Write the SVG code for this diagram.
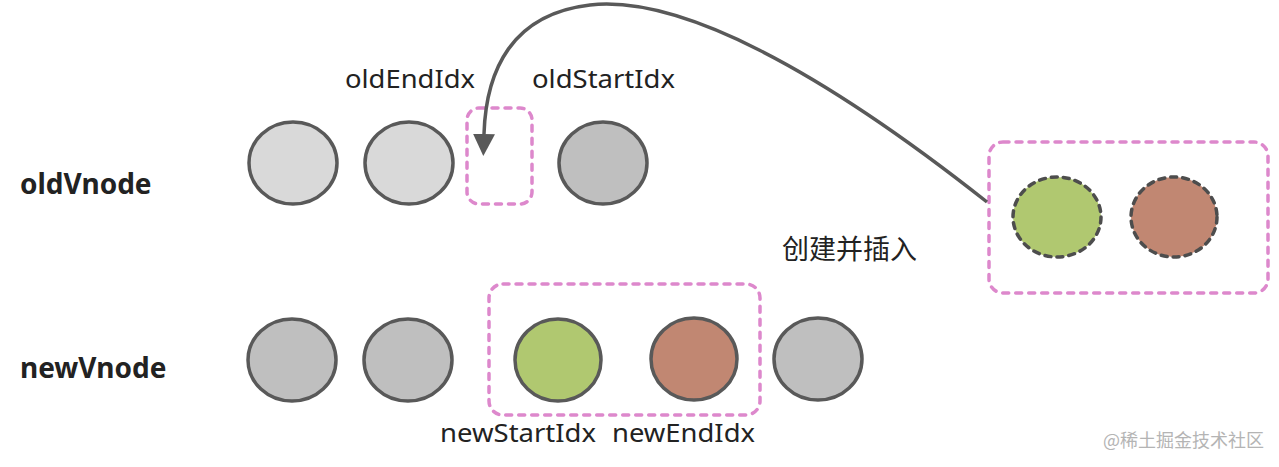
<svg xmlns="http://www.w3.org/2000/svg" width="1279" height="467" viewBox="0 0 1279 467">
<style>
.lbl{font-family:"Noto Sans","Liberation Sans",sans-serif;font-size:26px;fill:#222}
.row{font-family:"Noto Sans","Liberation Sans",sans-serif;font-size:28px;font-weight:bold;fill:#222}
.cjk{font-family:"Noto Sans CJK SC","Noto Sans",sans-serif;font-size:27px;fill:#222}
.wm{font-family:"Noto Sans CJK SC","Noto Sans",sans-serif;font-size:18px;fill:#b4b4b4}
.n{stroke:#595959;stroke-width:3.5}
.light{fill:#d9d9d9}
.grey{fill:#bfbfbf}
.green{fill:#b0c870}
.red{fill:#c18772}
.dn{stroke:#4d4d4d;stroke-width:3.5;stroke-dasharray:6 6;stroke-linecap:round}
.box{fill:none;stroke:#dd88cc;stroke-width:3.5;stroke-dasharray:6 7;stroke-linecap:round}
.conn{fill:none;stroke:#595959;stroke-width:3.5}
</style>
<defs>
<marker id="ah" markerUnits="userSpaceOnUse" markerWidth="22" markerHeight="22" refX="0" refY="10" orient="auto" viewBox="0 0 20 20">
<path d="M0,0 L20,10 L0,20 z" fill="#595959"/>
</marker>
</defs>

<g id="labels">
<text class="row" x="20" y="194">oldVnode</text>
<text class="row" x="20" y="378">newVnode</text>
</g>

<g id="old1"><ellipse class="n light" cx="293" cy="163" rx="44" ry="41"/></g>
<g id="old2"><ellipse class="n light" cx="409" cy="163" rx="44" ry="41"/></g>
<g id="oldGap"><rect class="box" x="467" y="108" width="65" height="96" rx="12"/></g>
<g id="old4"><ellipse class="n grey" cx="603" cy="163" rx="44" ry="41"/></g>
<g id="oldIdx">
<text class="lbl" x="345" y="88" textLength="130" lengthAdjust="spacingAndGlyphs">oldEndIdx</text>
<text class="lbl" x="532" y="88" textLength="143" lengthAdjust="spacingAndGlyphs">oldStartIdx</text>
</g>

<g id="insertBox">
<rect class="box" x="989" y="142" width="279" height="151" rx="14"/>
<ellipse class="dn green" cx="1057" cy="217" rx="44" ry="40"/>
<ellipse class="dn red" cx="1174" cy="217" rx="43" ry="40"/>
</g>
<g id="insertLabel"><text class="cjk" x="782" y="259">创建并插入</text></g>

<g id="new1"><ellipse class="n grey" cx="292" cy="360" rx="44" ry="41"/></g>
<g id="new2"><ellipse class="n grey" cx="408" cy="360" rx="44" ry="41"/></g>
<g id="newRange"><rect class="box" x="489" y="284" width="271" height="131" rx="14"/></g>
<g id="new3"><ellipse class="n green" cx="558" cy="360" rx="43" ry="41"/></g>
<g id="new4"><ellipse class="n red" cx="694" cy="359" rx="43" ry="41"/></g>
<g id="new5"><ellipse class="n grey" cx="818" cy="359" rx="44" ry="41"/></g>
<g id="newIdx">
<text class="lbl" x="440" y="442" textLength="156" lengthAdjust="spacingAndGlyphs">newStartIdx</text>
<text class="lbl" x="612" y="442" textLength="143" lengthAdjust="spacingAndGlyphs">newEndIdx</text>
</g>

<g id="connectors">
<path class="conn" d="M987,202 C820,70 680,-5 590,5 C512,14 486,70 484,134" marker-end="url(#ah)"/>
</g>

<text class="wm" x="1103" y="447">@稀土掘金技术社区</text>
</svg>
